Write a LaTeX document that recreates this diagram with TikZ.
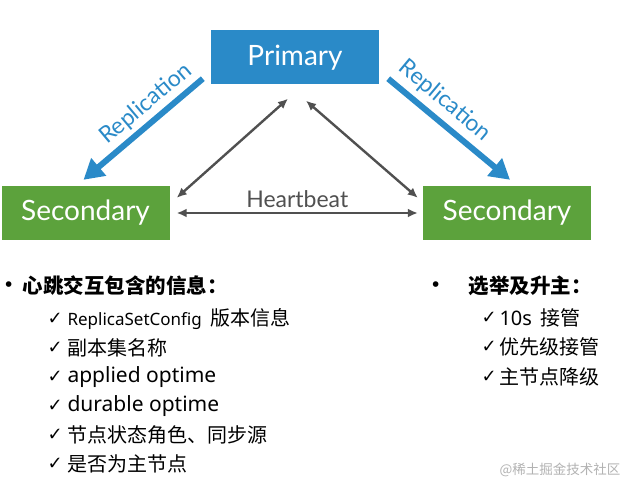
\documentclass[tikz,border=0pt]{standalone}
\usepackage{fontspec}
\usepackage{xcolor}
\usepackage{tikz}
\usetikzlibrary{arrows.meta}
\setmainfont{Lato}
\newfontfamily\cjk{Noto Sans CJK SC}
\newfontfamily\lat{Noto Sans}
\newfontfamily\symb{DejaVu Sans}

\definecolor{primblue}{RGB}{42,138,200}
\definecolor{secgreen}{RGB}{92,162,60}
\definecolor{hbgray}{RGB}{80,80,80}

\begin{document}
\begin{tikzpicture}[x=1pt, y=-1pt,
    box/.style={rectangle, minimum width=168pt, minimum height=54pt, inner sep=0pt, text=white, font=\fontsize{28}{32}\selectfont},
    repl/.style={-{Triangle[length=20pt,width=22pt]}, line width=6pt, primblue},
    hb/.style={{Latex[length=10pt,width=9pt]}-{Latex[length=10pt,width=9pt]}, line width=2.4pt, hbgray},
    repltext/.style={text=primblue, font=\fontsize{23}{26}\selectfont},
    head/.style={anchor=west, font=\cjk\bfseries\fontsize{20.5}{24}\selectfont},
    item/.style={anchor=west, font=\cjk\fontsize{20}{24}\selectfont},
    tick/.style={anchor=west, font=\symb\fontsize{18}{20}\selectfont}
]
\useasboundingbox (0,0) rectangle (636,492);

% Nodes
\node[box, fill=primblue] (prim) at (295,57.5) {Primary};
\node[box, fill=secgreen] (secl) at (85.5,213) {Secondary};
\node[box, fill=secgreen] (secr) at (507,213) {Secondary};

% Replication
\draw[repl] ([xshift=-8pt,yshift=6pt]prim.south west) -- ([xshift=-2pt,yshift=6pt]secl.north);
\draw[repl] ([xshift=9pt,yshift=6pt]prim.south east) -- ([xshift=3pt,yshift=6pt]secr.north);
\node[repltext, rotate=40] (repll) at (146,104) {Replication};
\node[repltext, rotate=-40] (replr) at (445,101) {Replication};

% Heartbeat
\draw[hb] ([xshift=-7pt,yshift=-14pt]prim.south) -- ([xshift=7pt,yshift=-12pt]secl.north east);
\draw[hb] ([xshift=11pt,yshift=-16pt]prim.south) -- ([xshift=-5pt,yshift=-12pt]secr.north west);
\draw[hb] ([xshift=7pt]secl.east) -- node[above=1pt, text=hbgray, font=\fontsize{23}{26}\selectfont] (hblabel) {Heartbeat} ([xshift=-5pt]secr.west);

% Left list
\node[anchor=west, font=\symb\bfseries\fontsize{16}{18}\selectfont] (bull1) at (0,286) {•};
\node[head] (head1) at (19,286) {心跳交互包含的信息：};
\node[tick] (t1) at (44,319) {✓};
\node[item] (i1) at (64,319) {{\lat\fontsize{17}{20}\selectfont ReplicaSetConfig}\ \ 版本信息};
\node[tick] (t2) at (44,348) {✓};
\node[item] (i2) at (64,348) {副本集名称};
\node[tick] (t3) at (44,377) {✓};
\node[item] (i3) at (64,377) {\lat\fontsize{21}{24}\selectfont applied optime};
\node[tick] (t4) at (44,406) {✓};
\node[item] (i4) at (64,406) {\lat\fontsize{21}{24}\selectfont durable optime};
\node[tick] (t5) at (44,435) {✓};
\node[item] (i5) at (64,435) {节点状态角色、同步源};
\node[tick] (t6) at (44,464) {✓};
\node[item] (i6) at (64,464) {是否为主节点};

% Right list
\node[anchor=west, font=\symb\bfseries\fontsize{16}{18}\selectfont] (bull2) at (427,286) {•};
\node[head] (head2) at (465,286) {选举及升主：};
\node[tick] (t7) at (478,318) {✓};
\node[item] (i7) at (496,318) {{\lat 10s}\ \ 接管};
\node[tick] (t8) at (478,347) {✓};
\node[item] (i8) at (496,347) {优先级接管};
\node[tick] (t9) at (478,377) {✓};
\node[item] (i9) at (496,377) {主节点降级};

% Watermark
\node[anchor=east, text=black!30, font=\cjk\fontsize{13.5}{16}\selectfont] (wm) at (624,470) {@稀土掘金技术社区};
\end{tikzpicture}
\end{document}
